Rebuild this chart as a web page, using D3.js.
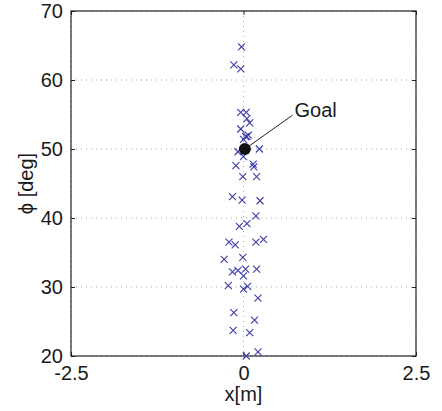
<!DOCTYPE html>
<html>
<head>
<meta charset="utf-8">
<script src="https://cdn.jsdelivr.net/npm/d3@7"></script>
<style>
  body { margin: 0; background: #fff; }
  svg text { font-family: "Liberation Sans", Arial, Helvetica, sans-serif; fill: #1a1a1a; }
</style>
</head>
<body>
<svg id="chart"></svg>
<script>
// trial end positions (x in m, phi in deg)
var xPos = [-0.03, -0.14, -0.04, -0.04, 0.04, 0.05, 0.09, -0.04, 0.03, 0.05, 0.07, 0.00,
            0.23, -0.08, 0.00, -0.11, 0.14, 0.15, -0.01, 0.19, -0.16, -0.02, 0.24, 0.18,
            -0.06, 0.05, -0.21, -0.12, 0.18, 0.29, -0.28, -0.01, -0.16, -0.08, 0.03, 0.00,
            0.19, -0.22, 0.00, 0.06, 0.21, -0.14, 0.16, -0.15, 0.09, 0.04, 0.21];
var phiPos = [64.8, 62.2, 61.6, 55.3, 55.3, 54.4, 53.8, 52.9, 51.8, 51.8, 52.0, 51.4,
              50.0, 49.6, 48.9, 47.6, 47.8, 47.4, 46.0, 46.0, 43.1, 42.6, 42.5, 40.3,
              38.8, 39.2, 36.5, 36.1, 36.5, 36.9, 34.0, 34.3, 32.2, 32.4, 32.6, 31.6,
              32.6, 30.2, 29.7, 30.1, 28.4, 26.3, 25.2, 23.7, 23.4, 20.0, 20.6];
var goal = {x: 0.02, phi: 50, label: "Goal", labelX: 0.71, labelPhi: 54.9};
var xTicks = [-2.5, 0, 2.5];
var xTickLabels = ["-2.5", "0", "2.5"];
var yTicks = [20, 30, 40, 50, 60, 70];

var data = xPos.map(function(d, i) { return {x: d, phi: phiPos[i]}; });

var margin = {top: 11, right: 26, bottom: 55, left: 71},
    width = 442 - margin.left - margin.right,
    height = 411 - margin.top - margin.bottom,
    svg = d3.select("#chart").attr("width", 442).attr("height", 411)
        .append("g")
        .attr("transform", "translate(" + margin.left + "," + margin.top + ")"),
    x = d3.scaleLinear().domain([-2.5, 2.5]).range([0, width]),
    y = d3.scaleLinear().domain([20, 70]).range([height, 0]);

// dotted grid
svg.selectAll(".gx").data(xTicks).enter().append("line")
    .attr("x1", function(d) { return x(d); }).attr("x2", function(d) { return x(d); })
    .attr("y1", 0).attr("y2", height)
    .attr("stroke", "#aaa").attr("stroke-width", 1).attr("stroke-dasharray", "1,4");
svg.selectAll(".gy").data(yTicks).enter().append("line")
    .attr("y1", function(d) { return y(d); }).attr("y2", function(d) { return y(d); })
    .attr("x1", 0).attr("x2", width)
    .attr("stroke", "#aaa").attr("stroke-width", 1).attr("stroke-dasharray", "1,4");

// axes (ticks inward, box on)
function styleAxis(g) {
  g.select(".domain").remove();
  g.selectAll(".tick line").attr("stroke", "#222");
  g.selectAll("text").style("font-size", "20px").attr("fill", "#1a1a1a");
}
svg.append("g").attr("transform", "translate(0," + height + ")")
    .call(d3.axisBottom(x).tickValues(xTicks).tickSize(-4).tickPadding(10)
        .tickFormat(function(d, i) { return xTickLabels[i]; }))
    .call(styleAxis);
svg.append("g")
    .call(d3.axisTop(x).tickValues(xTicks).tickSize(-4).tickFormat(""))
    .call(styleAxis);
svg.append("g")
    .call(d3.axisLeft(y).tickValues(yTicks).tickSize(-4).tickPadding(8))
    .call(styleAxis);
svg.append("g").attr("transform", "translate(" + width + ",0)")
    .call(d3.axisRight(y).tickValues(yTicks).tickSize(-4).tickFormat(""))
    .call(styleAxis);

svg.append("rect")
    .attr("width", width).attr("height", height)
    .attr("fill", "none").attr("stroke", "#222").attr("stroke-width", 1.2);

// x markers
var s = 3.5;
var marks = svg.selectAll(".pt").data(data).enter().append("g")
    .attr("transform", function(d) { return "translate(" + x(d.x) + "," + y(d.phi) + ")"; });
marks.append("path")
    .attr("d", "M" + (-s) + "," + (-s) + "L" + s + "," + s + "M" + (-s) + "," + s + "L" + s + "," + (-s))
    .attr("stroke", "#3d3da6").attr("stroke-width", 1.1).attr("fill", "none");

// goal + annotation
svg.append("line")
    .attr("x1", x(goal.x)).attr("y1", y(goal.phi))
    .attr("x2", x(goal.labelX)).attr("y2", y(goal.labelPhi))
    .attr("stroke", "#222").attr("stroke-width", 1);
svg.append("circle")
    .attr("cx", x(goal.x)).attr("cy", y(goal.phi)).attr("r", 6)
    .attr("fill", "#111");
svg.append("text")
    .attr("x", x(goal.labelX) + 2).attr("y", y(goal.labelPhi) + 2)
    .style("font-size", "20px")
    .text(goal.label);

// axis labels
svg.append("text")
    .attr("x", width / 2).attr("y", height + 45)
    .attr("text-anchor", "middle").style("font-size", "20px")
    .text("x[m]");
svg.append("text")
    .attr("transform", "translate(" + (33 - margin.left) + "," + (height / 2) + ") rotate(-90)")
    .attr("text-anchor", "middle").style("font-size", "20px")
    .text("ϕ [deg]");
</script>
</body>
</html>
